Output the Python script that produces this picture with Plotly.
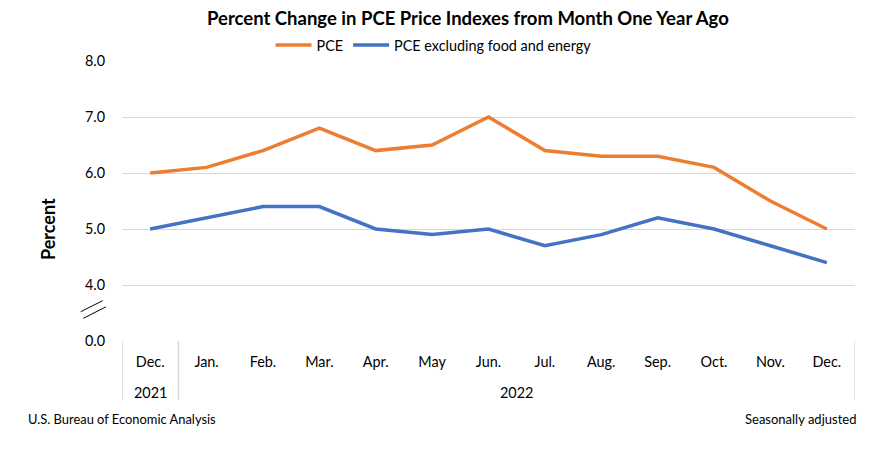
import plotly.graph_objects as go

months = ["Dec.", "Jan.", "Feb.", "Mar.", "Apr.", "May", "Jun.", "Jul.", "Aug.", "Sep.", "Oct.", "Nov.", "Dec."]
years = ["2021", "2022"]
pce = [6.0, 6.1, 6.4, 6.8, 6.4, 6.5, 7.0, 6.4, 6.3, 6.3, 6.1, 5.5, 5.0]
core = [5.0, 5.2, 5.4, 5.4, 5.0, 4.9, 5.0, 4.7, 4.9, 5.2, 5.0, 4.7, 4.4]
ytick_vals = [3, 4, 5, 6, 7, 8]
ytick_text = ["0.0", "4.0", "5.0", "6.0", "7.0", "8.0"]

FONT = "Lato, 'Open Sans', sans-serif"
xs = list(range(len(months)))

fig = go.Figure()
fig.add_trace(go.Scatter(x=xs, y=pce, mode="lines", name="PCE",
                         line=dict(color="#ED7D31", width=3.5)))
fig.add_trace(go.Scatter(x=xs, y=core, mode="lines", name="PCE excluding food and energy",
                         line=dict(color="#4472C4", width=3.5)))

fig.update_layout(
    width=862, height=435,
    margin=dict(l=114, r=15, t=53, b=102),
    paper_bgcolor="white", plot_bgcolor="white",
    font=dict(family=FONT, color="#000000"),
    showlegend=True,
    legend=dict(orientation="h", x=0.425, xanchor="center", y=1.057, yanchor="middle",
                font=dict(size=14.4, family=FONT), itemwidth=36, tracegroupgap=0,
                bgcolor="rgba(0,0,0,0)"),
    xaxis=dict(range=[-0.5, 12.5], tickmode="array", tickvals=xs, ticktext=months,
               showgrid=False, zeroline=False, showline=False, ticks="",
               tickfont=dict(size=14.4, family=FONT), ticklabelstandoff=11,
               fixedrange=True),
    yaxis=dict(range=[3, 8], tickmode="array", tickvals=ytick_vals, ticktext=ytick_text,
               showgrid=True, gridcolor="#d9d9d9", gridwidth=1.3, zeroline=False,
               showline=False, ticks="", tickfont=dict(size=14.4, family=FONT),
               ticklabelstandoff=16, fixedrange=True),
)

# Title
fig.add_annotation(text="<b>Percent Change in PCE Price Indexes from Month One Year Ago</b>",
                   xref="paper", yref="paper", x=0.472, y=1.0 + (61 - 18) / 280,
                   xanchor="center", yanchor="middle", showarrow=False,
                   font=dict(size=18.5, family=FONT))
# Y axis title
fig.add_annotation(text="<b>Percent</b>", xref="paper", yref="y", x=(48 - 122) / 733, y=5,
                   textangle=-90, showarrow=False, xanchor="center", yanchor="middle",
                   font=dict(size=18, family=FONT))
# Year labels
fig.add_annotation(text=years[0], xref="x", yref="paper", x=0, y=-(392 - 341) / 280,
                   showarrow=False, xanchor="center", yanchor="middle", font=dict(size=14.4, family=FONT))
fig.add_annotation(text=years[1], xref="x", yref="paper", x=6.5, y=-(392 - 341) / 280,
                   showarrow=False, xanchor="center", yanchor="middle", font=dict(size=14.4, family=FONT))
# Footer
fig.add_annotation(text="U.S. Bureau of Economic Analysis", xref="paper", yref="paper",
                   x=(26 - 122) / 733, y=-(419 - 341) / 280, xanchor="left", yanchor="middle",
                   showarrow=False, font=dict(size=12.9, family=FONT))
fig.add_annotation(text="Seasonally adjusted", xref="paper", yref="paper",
                   x=(858 - 122) / 733, y=-(419 - 341) / 280, xanchor="right", yanchor="middle",
                   showarrow=False, font=dict(size=13, family=FONT))

# Category box dividers
box_bottom = -(400 - 341) / 280
for xv in [-0.5, 0.5, 12.5]:
    fig.add_shape(type="line", xref="x", yref="paper", x0=xv, x1=xv, y0=0, y1=box_bottom,
                  line=dict(color="#d9d9d9", width=1.5))

# Axis break marks
for (x0, y0, x1, y1) in [(80.7, 3.523, 102.7, 3.72), (83.3, 3.405, 106.0, 3.61)]:
    fig.add_shape(type="line", xref="paper", yref="y",
                  x0=(x0 - 122) / 733, x1=(x1 - 122) / 733, y0=y0, y1=y1,
                  line=dict(color="#000000", width=1))

fig.write_html("out.html")
